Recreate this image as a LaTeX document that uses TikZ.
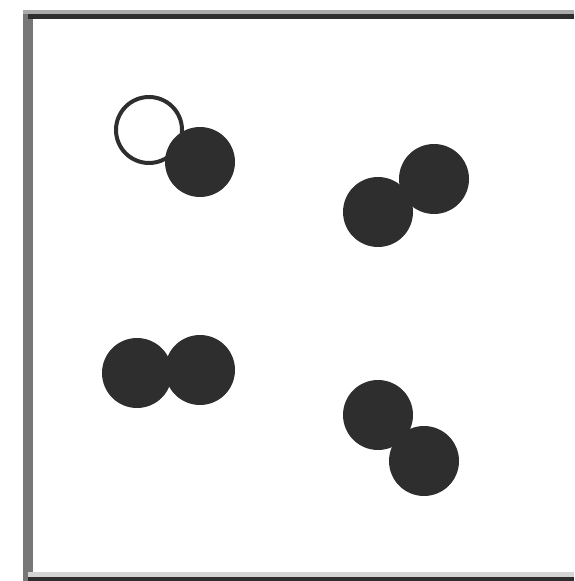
\documentclass[tikz,border=0pt]{standalone}
\usepackage{tikz}
\usetikzlibrary{positioning}
\definecolor{particle}{RGB}{46,46,46}
\definecolor{wallside}{RGB}{119,119,119}
\definecolor{walltop}{RGB}{170,170,170}
\definecolor{wallbottom}{RGB}{212,212,212}

\begin{document}
\begin{tikzpicture}[
  x=0.5pt, y=-0.5pt,
  dot/.style={
    circle, inner sep=0pt, minimum size=35pt,
    fill=particle, draw=none
  },
  hollow/.style={
    circle, inner sep=0pt, minimum size=33pt,
    draw=particle, line width=2pt, fill=white
  }
]
\useasboundingbox (0,0) rectangle (574,581);

% container walls
\fill[wallside] (23,10) rectangle (33,581);
\fill[walltop] (23,10) rectangle (574,14);
\fill[particle] (28,14) rectangle (574,19);
\fill[wallbottom] (28,572) rectangle (574,577);
\fill[particle] (28,577) rectangle (574,581);

% molecules
\node[hollow] (a1) at (149,130) {};
\node[dot] (a2) at (200,162) {};

\node[dot] (b1) at (434,179) {};
\node[dot] (b2) at (378,212) {};

\node[dot] (c1) at (137,373) {};
\node[dot] (c2) at (200,370) {};

\node[dot] (d1) at (378,415) {};
\node[dot] (d2) at (424,461) {};

\end{tikzpicture}
\end{document}
